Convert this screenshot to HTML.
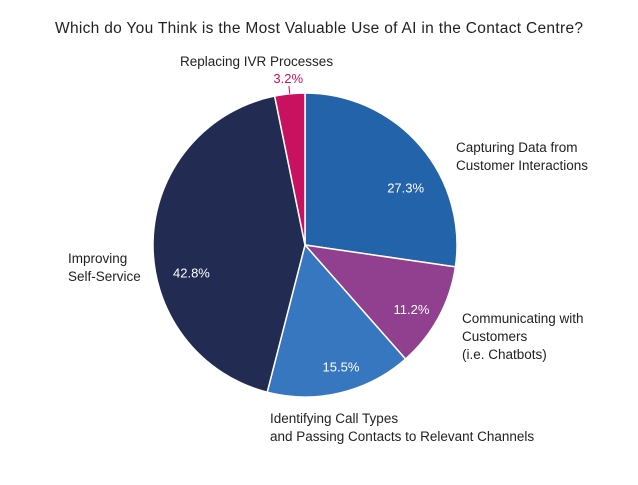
<!DOCTYPE html>
<html><head><meta charset="utf-8"><style>
body{margin:0;background:#fff;width:638px;height:480px;overflow:hidden}
svg text{font-family:"Liberation Sans",sans-serif}
</style></head><body>
<svg id="chart" width="638" height="480">
<text x="319" y="33" text-anchor="middle" font-size="15.5" fill="#222" textLength="528">Which do You Think is the Most Valuable Use of AI in the Contact Centre?</text>
</svg>
<script>
const categories=["Capturing Data from Customer Interactions","Communicating with Customers (i.e. Chatbots)","Identifying Call Types and Passing Contacts to Relevant Channels","Improving Self-Service","Replacing IVR Processes"];
const values=[27.3,11.2,15.5,42.8,3.2];
const valueLabels=["27.3%","11.2%","15.5%","42.8%","3.2%"];
const colors=["#2363aa","#913f8f","#3777bf","#222b52","#c9125f"];
const labelLines=[["Capturing Data from","Customer Interactions"],["Communicating with","Customers","(i.e. Chatbots)"],["Identifying Call Types","and Passing Contacts to Relevant Channels"],["Improving","Self-Service"],["Replacing IVR Processes"]];
const labelPos=[[456,152,"start"],[462,323,"start"],[270,423,"start"],[68,263,"start"],[180,66,"start"]];
const labelRadius=[0.76,0.82,0.84,0.77,1.1];
const labelAngleShift=[0.2,0.05,-0.05,-0.27,0];
const svg=document.getElementById('chart');
const NS="http://www.w3.org/2000/svg";
const cx=305,cy=245,r=152;
const total=values.reduce((a,b)=>a+b,0);
function pt(a,rr){return [cx+rr*Math.sin(a),cy-rr*Math.cos(a)];}
let acc=0;
values.forEach((v,i)=>{
  const a0=acc/total*2*Math.PI; acc+=v; const a1=acc/total*2*Math.PI;
  const p0=pt(a0,r),p1=pt(a1,r);
  const large=(a1-a0)>Math.PI?1:0;
  const path=document.createElementNS(NS,'path');
  path.setAttribute('d',`M${cx},${cy}L${p0[0]},${p0[1]}A${r},${r} 0 ${large} 1 ${p1[0]},${p1[1]}Z`);
  path.setAttribute('fill',colors[i]);path.setAttribute('stroke','#fff');path.setAttribute('stroke-width','1.5');
  
  
  svg.appendChild(path);
  const am=(a0+a1)/2+labelAngleShift[i];
  const t=document.createElementNS(NS,'text');
  let lp;
  if(v<5){lp=pt(am,r+15);
    const ln=document.createElementNS(NS,'line');const q=pt(am,r+8),q2=pt(am,r);
    ln.setAttribute('x1',q[0]);ln.setAttribute('y1',q[1]);ln.setAttribute('x2',q2[0]);ln.setAttribute('y2',q2[1]);ln.setAttribute('stroke',colors[i]);
    
    
    svg.appendChild(ln);
    t.setAttribute('fill',colors[i]);
  } else {lp=pt(am,r*labelRadius[i]);t.setAttribute('fill','#fff');}
  t.setAttribute('x',lp[0]);t.setAttribute('y',lp[1]+4);t.setAttribute('text-anchor','middle');t.setAttribute('font-size','13');
  t.textContent=valueLabels[i];
  
  
  svg.appendChild(t);
  const c=document.createElementNS(NS,'text');
  c.setAttribute('x',labelPos[i][0]);c.setAttribute('y',labelPos[i][1]);c.setAttribute('font-size','13.5');c.setAttribute('fill','#222');c.setAttribute('text-anchor',labelPos[i][2]);
  labelLines[i].forEach((s,k)=>{const ts=document.createElementNS(NS,'tspan');ts.setAttribute('x',labelPos[i][0]);ts.setAttribute('dy',k?18:0);ts.textContent=s;c.appendChild(ts);});
  
  
  svg.appendChild(c);
});
</script>
</body></html>
